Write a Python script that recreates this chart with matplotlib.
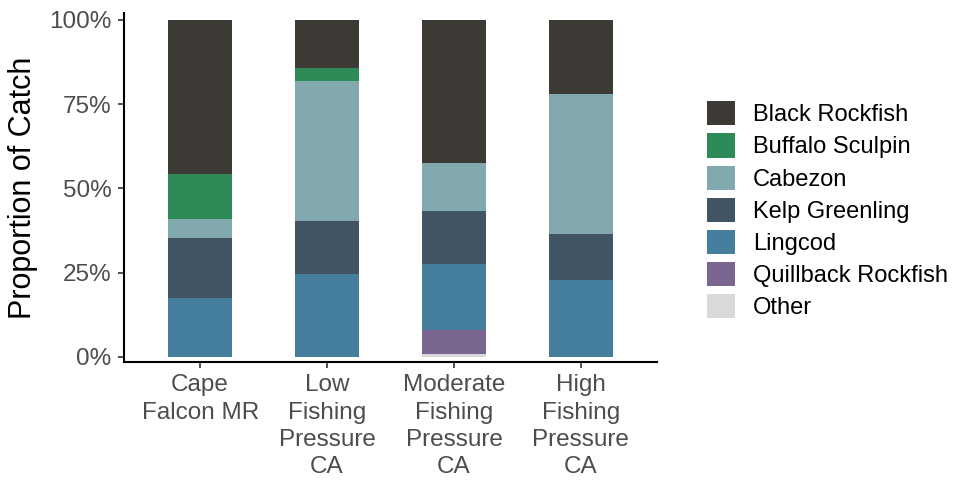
import matplotlib
matplotlib.use("Agg")
import matplotlib.pyplot as plt
from matplotlib.patches import Patch
from matplotlib.ticker import PercentFormatter
import numpy as np

# site labels on the x axis
sites = ["Cape\nFalcon MR", "Low\nFishing\nPressure\nCA",
         "Moderate\nFishing\nPressure\nCA", "High\nFishing\nPressure\nCA"]

# proportion of catch (%) per species, one value per site
black_rockfish = [45.8, 14.3, 42.5, 22.1]
buffalo_sculpin = [13.3, 3.8, 0.0, 0.0]
cabezon = [5.7, 41.7, 14.1, 41.5]
kelp_greenling = [17.7, 15.6, 15.7, 13.6]
lingcod = [17.5, 24.6, 19.8, 22.8]
quillback_rockfish = [0.0, 0.0, 7.1, 0.0]
other = [0.0, 0.0, 0.8, 0.0]

species = ["Black Rockfish", "Buffalo Sculpin", "Cabezon", "Kelp Greenling",
           "Lingcod", "Quillback Rockfish", "Other"]
values = [black_rockfish, buffalo_sculpin, cabezon, kelp_greenling,
          lingcod, quillback_rockfish, other]
colors = ["#3d3a35", "#2e8b57", "#82a9ae", "#415463",
          "#467e9d", "#7a6690", "#d9d9d9"]

plt.rcParams["font.family"] = ["Liberation Sans", "DejaVu Sans"]

fig = plt.figure(figsize=(9.69, 4.82), dpi=100)
ax = fig.add_axes([0.128, 0.249, 0.550, 0.724])

x = np.arange(1, len(sites) + 1)
bottom = np.zeros(len(sites))
# stack from the bottom: Other first, Black Rockfish on top
for name, vals, col in reversed(list(zip(species, values, colors))):
    v = np.array(vals) / 100.0
    ax.bar(x, v, width=0.5, bottom=bottom, color=col, linewidth=0)
    bottom += v

ax.set_xlim(0.4, 4.6)
ax.set_ylim(-0.015, 1.02)
ax.set_xticks(x)
ax.set_xticklabels(sites, linespacing=1.3)
ax.set_yticks([0, 0.25, 0.5, 0.75, 1.0])
ax.yaxis.set_major_formatter(PercentFormatter(1.0, decimals=0))
ax.tick_params(axis="both", labelsize=17.5, labelcolor="#4d4d4d",
               length=4, width=1.2, color="#333333", pad=5)
ax.set_ylabel("Proportion of Catch", fontsize=22, labelpad=8)

for s in ["top", "right"]:
    ax.spines[s].set_visible(False)
for s in ["left", "bottom"]:
    ax.spines[s].set_linewidth(1.5)
    ax.spines[s].set_color("black")

handles = [Patch(facecolor=c, edgecolor="none") for c in colors]
fig.legend(handles, species, loc="center left", bbox_to_anchor=(0.7296, 0.564),
           frameon=False, fontsize=17, handlelength=1.19, handleheight=1.19,
           labelspacing=0.3, handletextpad=0.76, borderpad=0, borderaxespad=0)

fig.savefig("out.png", dpi=100)
